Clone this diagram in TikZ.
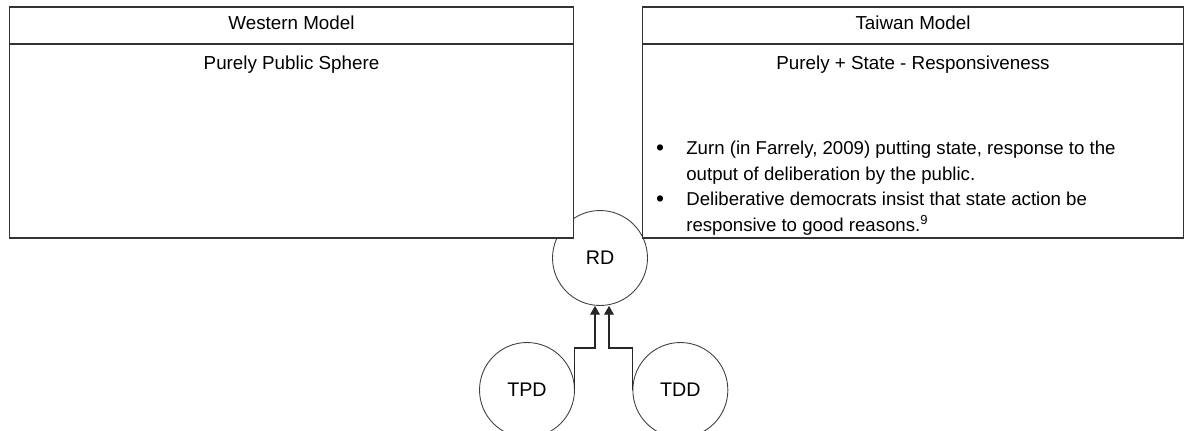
\documentclass[tikz,border=0pt]{standalone}
\usepackage{fontspec}
\setmainfont{Liberation Sans}
\usetikzlibrary{arrows.meta,positioning}
\tikzset{
    %Define standard arrow tip
    >={Triangle[length=5pt,width=5.6pt]},
    %Define style for the model panels
    panel/.style={
           rectangle,
           draw=black!80, line width=0.6pt,
           fill=white,
           minimum height=4.62cm},
    band/.style={
           rectangle,
           draw=black!80, line width=0.6pt,
           minimum height=0.74cm,
           inner sep=0pt,
           text depth=0.32em,
           font=\fontsize{10.7}{12}\selectfont},
    caption/.style={
           inner sep=0pt,
           font=\fontsize{10.7}{12}\selectfont},
    item/.style={
           inner sep=0pt,
           align=left,
           font=\fontsize{10.6}{14.5}\selectfont},
    dot/.style={
           inner sep=0pt,
           font=\fontsize{13}{14}\selectfont},
    % Define style for the circles
    bubble/.style={
           circle,
           draw=black!75, line width=0.5pt,
           minimum size=1.9cm,
           font=\fontsize{11.2}{13}\selectfont},
    % Define arrow style
    feed/.style={
           ->,
           draw=black!85,
           line width=0.6pt}
}
\begin{document}
\begin{tikzpicture}[x=0.02cm, y=-0.02cm, node distance=1cm]
 \useasboundingbox[fill=white] (0,0) rectangle (1185,430);
 %circles
    \node[bubble] (rd) at (600,258) {RD};
    \node[bubble] (tpd) at (527,390) {TPD};
    \node[bubble, right=1.15cm of tpd] (tdd) {TDD};
 %western panel
    \node[panel, minimum width=11.3cm] (west) at (291.5,122.5) {};
    \node[band, minimum width=11.3cm, below=0pt of west.north] (westhead) {Western Model};
    \node[caption, below=0.21cm of westhead] (westsub) {Purely Public Sphere};
 %taiwan panel
    \node[panel, minimum width=10.84cm] (taiwan) at (913,122.5) {};
    \node[band, minimum width=10.84cm, below=0pt of taiwan.north] (taiwanhead) {Taiwan Model};
    \node[caption, below=0.21cm of taiwanhead] (taiwansub) {Purely + State - Responsiveness};
    \node[item, anchor=north west] (zurn) at (686,141)
        {Zurn (in Farrely, 2009) putting state, response to the\\output of deliberation by the public.};
    \node[item, anchor=north west] (reasons) at (686,192)
        {Deliberative democrats insist that state action be\\responsive to good reasons.\textsuperscript{9}};
    \node[dot] (dotzurn) at (660,150) {\textbullet};
    \node[dot] (dotreasons) at (660,201) {\textbullet};
 %edges
    \draw[feed] (tpd.east) -- ++(0,-42) -| ([xshift=-0.1cm]rd.south);
    \draw[feed] (tdd.west) -- ++(0,-42) -| ([xshift=0.18cm]rd.south);
\end{tikzpicture}
\end{document}
